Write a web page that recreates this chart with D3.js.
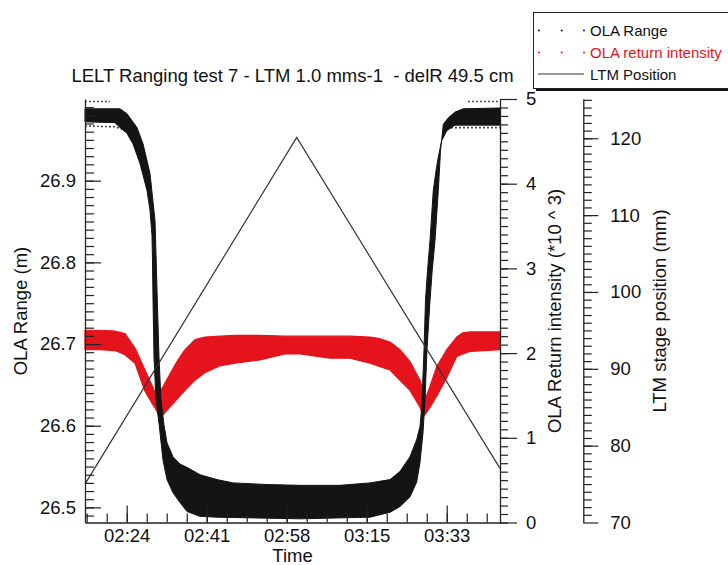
<!DOCTYPE html>
<html><head><meta charset="utf-8">
<script src="https://cdn.jsdelivr.net/npm/d3@7"></script>
<style>
html,body{margin:0;padding:0;background:#fff;}
svg{display:block;font-family:"Liberation Sans",Arial,Helvetica,sans-serif;}
</style></head><body>
<svg id="chart" width="728" height="565"></svg>
<script>
// ---------------- data (times in minutes after midnight) ----------------
const titleText = "LELT Ranging test 7 - LTM 1.0 mms-1  - delR 49.5 cm";
const legendLabels = ["OLA Range", "OLA return intensity", "LTM Position"];
const xTickTimes = [144.5, 161.65, 178.8, 195.95, 213.1];
const xMinorStep = 4.2875;

// OLA Range: envelope of the dense point cloud (outer edge, then inner edge)
const rangeOuterTime = [135.56,141.99,143.06,144.56,145.85,147.35,148.85,149.49,149.92,150.03,150.14,150.35,150.78,151.42,152.28,153.14,154.42,155.92,157.42,160.21,163.86,181.65,196.65,200.94,203.08,205.23,206.66,207.37,208.01,208.44,208.87,209.52,209.99,210.59,211.3,211.77,212.37,213.44,214.88,216.65,224.52];
const rangeOuterValue = [26.972,26.971,26.965,26.958,26.945,26.921,26.888,26.864,26.833,26.802,26.754,26.684,26.632,26.603,26.558,26.534,26.518,26.506,26.495,26.489,26.488,26.486,26.488,26.494,26.501,26.513,26.531,26.555,26.591,26.632,26.693,26.754,26.790,26.827,26.888,26.937,26.969,26.977,26.984,26.988,26.989];
const rangeInnerTime = [135.56,143.06,144.56,146.71,148.0,149.49,150.57,151.0,151.42,151.85,152.49,153.14,154.42,155.92,157.42,160.21,163.86,167.29,174.57,181.65,190.22,196.65,200.94,203.08,205.23,206.66,207.37,207.74,207.95,208.23,208.55,208.98,209.52,210.22,210.8,211.3,212.02,213.1,214.88,224.52];
const rangeInnerValue = [26.988,26.988,26.982,26.965,26.945,26.909,26.851,26.766,26.684,26.632,26.601,26.579,26.562,26.553,26.549,26.540,26.534,26.530,26.528,26.527,26.527,26.530,26.534,26.544,26.562,26.583,26.599,26.623,26.652,26.693,26.754,26.790,26.827,26.888,26.912,26.929,26.949,26.961,26.968,26.968];
// sparse outlier rows of the range cloud
const rangeSparseTime = [[135.6,140.9],[217.7,224.5],[135.6,142.0,144.6],[213.2,224.5]];
const rangeSparseValue = [[26.997,26.997],[26.997,26.997],[26.967,26.966,26.961],[26.965,26.965]];

// OLA return intensity (*10^3): band envelope
const intTime = [135.56,138.78,141.99,144.13,146.28,148.42,149.92,151.0,151.64,153.35,155.5,157.0,159.14,161.28,164.5,167.72,173.07,178.43,181.65,188.08,192.37,196.65,198.8,200.94,203.08,205.23,207.37,208.08,208.66,209.52,210.95,213.1,215.24,216.59,218.09,221.31,224.52];
const intHigh = [2.27,2.27,2.26,2.23,2.06,1.80,1.62,1.48,1.54,1.71,1.92,2.04,2.16,2.19,2.20,2.21,2.21,2.20,2.20,2.20,2.20,2.19,2.17,2.13,2.04,1.90,1.68,1.56,1.48,1.61,1.84,2.04,2.19,2.24,2.25,2.25,2.25];
const intLow = [2.04,2.04,2.03,1.98,1.88,1.55,1.41,1.31,1.23,1.34,1.47,1.56,1.68,1.77,1.85,1.88,1.92,1.99,1.99,1.94,1.94,1.88,1.84,1.80,1.68,1.56,1.36,1.25,1.29,1.36,1.49,1.71,1.96,1.99,2.02,2.03,2.04];

// LTM stage position (mm)
const ltmTime = [135.56, 180.94, 224.52];
const ltmPos = [75.0, 120.1, 77.05];

// ---------------- drawing ----------------
const RED = "#e5131c", BLK = "#141414", AX = "#222";
const FS = 18.5;
const L = 85, R = 500, T = 99, B = 522.5;
const svg = d3.select("#chart");

const x = d3.scaleLinear().domain([135.56, 224.52]).range([L, R]);
const yR = d3.scaleLinear().domain([26.4815, 27.0]).range([B, T]);
const yI = d3.scaleLinear().domain([0, 5]).range([B, T]);
const yL = d3.scaleLinear().domain([70, 125.11]).range([B, T]);

const fmtTime = t => { const m = Math.floor(t); return String(Math.floor(m/60)).padStart(2,"0") + ":" + String(m % 60).padStart(2,"0"); };

// intensity band
const intData = intTime.map((t,i) => ({t, hi: intHigh[i], lo: intLow[i]}));
svg.append("path").datum(intData)
  .attr("d", d3.area().x(d => x(d.t)).y0(d => yI(d.lo)).y1(d => yI(d.hi)))
  .attr("fill", RED).attr("stroke", RED).attr("stroke-width", 1.2).attr("stroke-linejoin","round");

// range cloud polygon
const rangePoly = rangeOuterTime.map((t,i) => [t, rangeOuterValue[i]])
  .concat(rangeInnerTime.map((t,i) => [t, rangeInnerValue[i]]).reverse());
svg.append("path").datum(rangePoly)
  .attr("d", d3.line().x(d => x(d[0])).y(d => yR(d[1])).curve(d3.curveLinearClosed))
  .attr("fill", BLK).attr("stroke", BLK).attr("stroke-width", 1).attr("stroke-linejoin","round");

// sparse outlier rows
rangeSparseTime.forEach((ts, k) => {
  const pts = ts.map((t,i) => [t, rangeSparseValue[k][i]]);
  svg.append("path").datum(pts)
    .attr("d", d3.line().x(d => x(d[0])).y(d => yR(d[1])))
    .attr("fill","none").attr("stroke", BLK).attr("stroke-width", 1.6)
    .attr("stroke-dasharray", "1.5,2.5");
});

// LTM line
svg.append("path").datum(ltmTime.map((t,i) => [t, ltmPos[i]]))
  .attr("d", d3.line().x(d => x(d[0])).y(d => yL(d[1])))
  .attr("fill","none").attr("stroke", "#333").attr("stroke-width", 1.2);

// ---------------- axes ----------------
function styleAxis(g){
  g.selectAll("path.domain").attr("stroke", AX).attr("stroke-width", 1.3);
  g.selectAll(".tick line").attr("stroke", AX).attr("stroke-width", 1.2);
  g.selectAll("text").attr("fill", "#111").style("font-size", FS + "px").attr("font-family", null);
}

// left axis: minor then major
const leftMinor = d3.range(26.49, 26.995, 0.01).map(v => +v.toFixed(2));
svg.append("g").attr("transform", `translate(${L},0)`)
  .call(d3.axisLeft(yR).tickValues(leftMinor).tickSizeInner(-9).tickSizeOuter(0).tickFormat(""))
  .call(g => g.select(".domain").remove()).call(styleAxis);
svg.append("g").attr("transform", `translate(${L},0)`)
  .call(d3.axisLeft(yR).tickValues([26.5,26.6,26.7,26.8,26.9]).tickSizeInner(-16).tickSizeOuter(0).tickPadding(9).tickFormat(d3.format(".1f")))
  .call(styleAxis);

// bottom axis
const xMinor = d3.range(xTickTimes[0] - 2*xMinorStep, x.domain()[1], xMinorStep);
svg.append("g").attr("transform", `translate(0,${B})`)
  .call(d3.axisBottom(x).tickValues(xMinor).tickSizeInner(-9).tickSizeOuter(0).tickFormat(""))
  .call(g => g.select(".domain").remove()).call(styleAxis);
svg.append("g").attr("transform", `translate(0,${B})`)
  .call(d3.axisBottom(x).tickValues(xTickTimes).tickSizeInner(-17).tickSizeOuter(0).tickPadding(5.9).tickFormat(fmtTime))
  .call(styleAxis);

// right intensity axis
svg.append("g").attr("transform", `translate(${R},0)`)
  .call(d3.axisRight(yI).tickValues(d3.range(0, 50).map(i => i/10)).tickSizeInner(8).tickSizeOuter(0).tickFormat(""))
  .call(g => g.select(".domain").remove()).call(styleAxis);
svg.append("g").attr("transform", `translate(${R},0)`)
  .call(d3.axisRight(yI).tickValues([0,1,2,3,4,5]).tickSizeInner(17).tickSizeOuter(0).tickPadding(9).tickFormat(d3.format("d")))
  .call(styleAxis);

// LTM axis
const ltmX = 583.3;
svg.append("g").attr("transform", `translate(${ltmX},0)`)
  .call(d3.axisRight(yL).tickValues(d3.range(71, 126)).tickSizeInner(8.5).tickSizeOuter(0).tickFormat(""))
  .call(g => g.select(".domain").remove()).call(styleAxis);
svg.append("g").attr("transform", `translate(${ltmX},0)`)
  .call(d3.axisRight(yL).tickValues([70,80,90,100,110,120]).tickSizeInner(15).tickSizeOuter(0).tickPadding(12).tickFormat(d3.format("d")))
  .call(styleAxis);

// ---------------- titles ----------------
const txt = (xx, yy, s, rot) => svg.append("text")
  .attr("transform", `translate(${xx},${yy})` + (rot ? " rotate(-90)" : ""))
  .attr("text-anchor", "middle").attr("fill", "#111").style("font-size", FS + "px").text(s);
txt((L+R)/2, 82, titleText).attr("xml:space","preserve").style("white-space","pre");
txt((L+R)/2, 562, "Time");
txt(27, 311, "OLA Range (m)", true);
txt(561, 311, "OLA Return intensity (*10 ^ 3)", true);
txt(666, 311, "LTM stage position (mm)", true);

// ---------------- legend ----------------
const lg = svg.append("g");
lg.append("rect").attr("x", 536).attr("y", 15).attr("width", 220).attr("height", 76).attr("fill", "#111");
lg.append("rect").attr("x", 533.5).attr("y", 12.5).attr("width", 220).attr("height", 76).attr("fill", "#fff").attr("stroke", "#222").attr("stroke-width", 1);
const rowY = [30.5, 52.5, 74];
const symX = [539, 561.7, 584];
[BLK, RED].forEach((c, i) => {
  lg.selectAll(null).data(symX).enter().append("circle")
    .attr("cx", d => d).attr("cy", rowY[i]).attr("r", 1).attr("fill", c);
});
lg.append("line").attr("x1", 538).attr("x2", 584).attr("y1", rowY[2]).attr("y2", rowY[2]).attr("stroke", "#333").attr("stroke-width", 1.2);
const legColors = ["#111", RED, "#111"];
legendLabels.forEach((s, i) => {
  lg.append("text").attr("x", 590).attr("y", rowY[i] + 5.5).attr("fill", legColors[i]).style("font-size", "15px").text(s);
});
</script>
</body></html>
